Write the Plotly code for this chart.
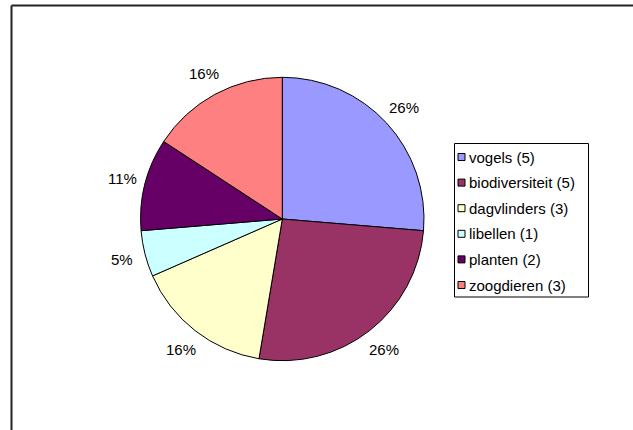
import math
import plotly.graph_objects as go

categories = ["vogels", "biodiversiteit", "dagvlinders", "libellen", "planten", "zoogdieren"]
counts = [5, 5, 3, 1, 2, 3]
colors = ["#9999FF", "#993366", "#FFFFCC", "#CCFFFF", "#660066", "#FF8080"]

W, H = 633, 430
FONT = "Liberation Sans, Arial, sans-serif"
FS = 15

def px(x):
    return x / W

def py(y):
    return 1 - y / H

cx, cy, r = 282.3, 219.0, 141.7
label_dist = r + 23.5

fig = go.Figure()
fig.add_trace(go.Pie(
    labels=categories,
    values=counts,
    sort=False,
    direction="clockwise",
    rotation=0,
    marker=dict(colors=colors, line=dict(color="black", width=1)),
    textinfo="none",
    showlegend=False,
    hoverinfo="label+value+percent",
    domain=dict(x=[px(cx - r), px(cx + r)], y=[py(cy + r), py(cy - r)]),
))

shapes = []
annotations = []

# percentage labels placed outside each slice at its mid-angle
total = sum(counts)
cum = 0
for val in counts:
    frac = val / total
    mid = 2 * math.pi * (cum + val / 2) / total  # clockwise from 12 o'clock
    cum += val
    label = f"{round(frac * 100)}%"
    lx = cx + label_dist * math.sin(mid)
    ly = cy - label_dist * math.cos(mid)
    annotations.append(dict(xref="paper", yref="paper", x=px(lx), y=py(ly),
                            xanchor="center", yanchor="middle", showarrow=False,
                            text=label, font=dict(family=FONT, size=FS, color="black")))

# chart area border (only top and left visible)
shapes.append(dict(type="line", xref="paper", yref="paper",
                   x0=px(11.5), x1=px(W), y0=py(5.5), y1=py(5.5),
                   line=dict(color="#222222", width=2)))
shapes.append(dict(type="line", xref="paper", yref="paper",
                   x0=px(11.5), x1=px(11.5), y0=py(5.5), y1=py(H),
                   line=dict(color="#222222", width=2)))
# legend box
shapes.append(dict(type="rect", xref="paper", yref="paper",
                   x0=px(454.5), x1=px(588.5), y0=py(297), y1=py(143.5),
                   line=dict(color="black", width=1), fillcolor="white", layer="below"))
row0, step = 157.0, 25.6
for i, (cat, val, col) in enumerate(zip(categories, counts, colors)):
    yc = row0 + i * step
    shapes.append(dict(type="rect", xref="paper", yref="paper",
                       x0=px(458), x1=px(465), y0=py(yc + 3.5), y1=py(yc - 3.5),
                       line=dict(color="black", width=1), fillcolor=col))
    annotations.append(dict(xref="paper", yref="paper", x=px(467), y=py(yc),
                            xanchor="left", yanchor="middle", showarrow=False,
                            text=f"{cat} ({val})",
                            font=dict(family=FONT, size=FS, color="black")))

fig.update_layout(
    width=W, height=H,
    margin=dict(l=0, r=0, t=0, b=0),
    paper_bgcolor="white",
    plot_bgcolor="white",
    shapes=shapes,
    annotations=annotations,
    font=dict(family=FONT, size=FS, color="black"),
)

fig.write_html("out.html", config={"displayModeBar": False},
               post_script="document.body.style.margin='0';document.body.style.overflow='hidden';")
